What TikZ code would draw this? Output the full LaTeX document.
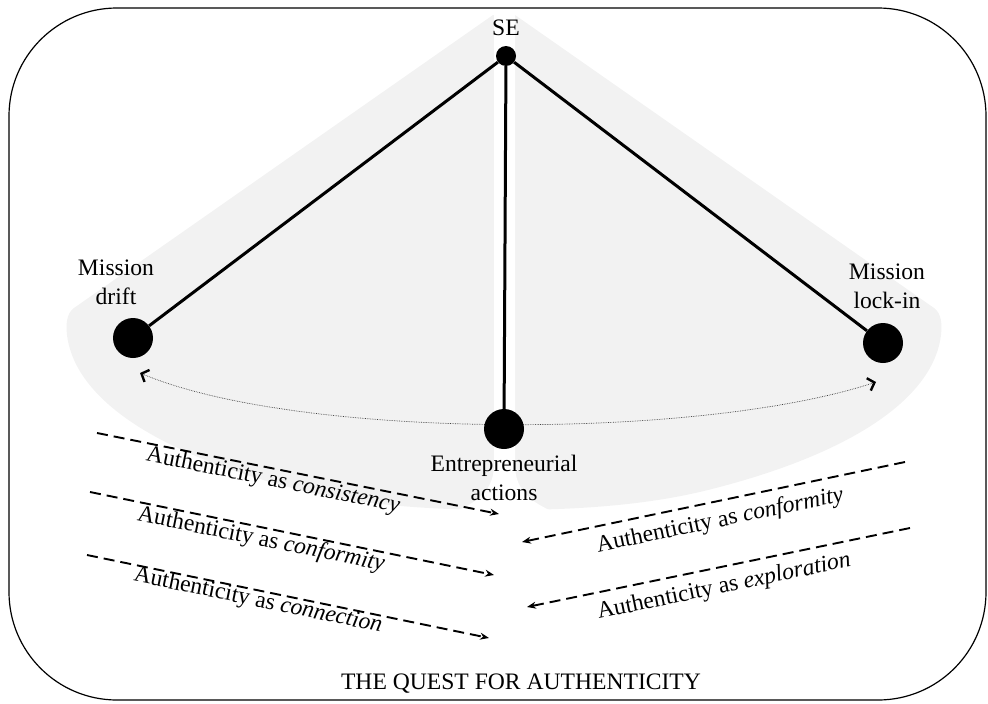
\documentclass[tikz,border=0pt]{standalone}
\usepackage{fontspec}
\setmainfont{Liberation Serif}
\usetikzlibrary{arrows.meta}
\definecolor{fan}{RGB}{242,242,242}
\begin{document}
\begin{tikzpicture}[x=1pt,y=-1pt,
  dot/.style={circle,fill=black,inner sep=0pt,minimum size=#1},
  lbl/.style={font=\fontsize{23.6}{29}\selectfont,align=center,inner sep=0pt},
  rod/.style={line width=3pt},
  flow/.style={dash pattern=on 11pt off 6pt,line width=1.9pt,-{Stealth[length=9pt,width=7pt]}},
  swing/.style={densely dotted,line width=0.7pt,draw=black!75,
    {Straight Barb[length=6pt,width=13pt,line width=2.4pt,color=black]}-{Straight Barb[length=6pt,width=13pt,line width=2.4pt,color=black]}}]
\useasboundingbox (0,0) rectangle (988,704);
% background fan
\fill[fan] (493,15) -- (74,308) .. controls (66,314) and (66,325) .. (67,335)
  .. controls (75,400) and (160,455) .. (300,490)
  .. controls (360,505) and (430,510) .. (504,510)
  .. controls (578,510) and (648,505) .. (708,490)
  .. controls (848,455) and (933,400) .. (941,335)
  .. controls (942,325) and (942,314) .. (934,308) -- (515,15) -- cycle;
\fill[white] (494,10) -- (494,465) .. controls (494,495) and (470,505) .. (450,514)
  -- (558,514) .. controls (538,505) and (515,495) .. (515,465) -- (515,10) -- cycle;
% frame
\draw[line width=1.2pt,rounded corners=108pt] (9,8) rectangle (986,700);
% swing arc
\coordinate (swL) at (140,373);
\coordinate (swR) at (876,382);
\draw[swing] (swL) .. controls (300,440) and (700,440) .. (swR);
% nodes
\node[dot=20pt] (se) at (506,56) {};
\node[dot=40pt] (drift) at (133,338) {};
\node[dot=40pt] (lock) at (883,343) {};
\node[dot=40pt] (ea) at (504,429) {};
\draw[rod] (se) -- (drift);
\draw[rod] (se) -- (lock);
\draw[rod] (se) -- (ea);
% labels
\node[lbl] (seL) at (506,28) {SE};
\node[lbl] (driftL) at (116,282) {Mission\\drift};
\node[lbl] (lockL) at (887,286) {Mission\\lock-in};
\node[lbl] (eaL) at (504,478) {Entrepreneurial\\actions};
\node[lbl] (title) at (521,684) {THE QUEST FOR AUTHENTICITY};
% dashed arrows left
\coordinate (a1s) at (97,433); \coordinate (a1e) at (499,514);
\coordinate (a2s) at (90,492); \coordinate (a2e) at (494,575);
\coordinate (a3s) at (87,555); \coordinate (a3e) at (489,638);
\draw[flow] (a1s) -- (a1e);
\draw[flow] (a2s) -- (a2e);
\draw[flow] (a3s) -- (a3e);
\node[lbl,rotate=-11.5] (t1) at (273,481) {Authenticity as \textit{consistency}};
\node[lbl,rotate=-11.5] (t2) at (261,540) {Authenticity as \textit{conformity}};
\node[lbl,rotate=-11.7] (t3) at (258,601) {Authenticity as \textit{connection}};
% dashed arrows right
\coordinate (b1s) at (905,462); \coordinate (b1e) at (522,542);
\coordinate (b2s) at (910,528); \coordinate (b2e) at (527,607);
\draw[flow] (b1s) -- (b1e);
\draw[flow] (b2s) -- (b2e);
\node[lbl,rotate=11.8] (t4) at (720,521) {Authenticity as \textit{conformity}};
\node[lbl,rotate=11.8] (t5) at (724,587) {Authenticity as \textit{exploration}};
\end{tikzpicture}
\end{document}
